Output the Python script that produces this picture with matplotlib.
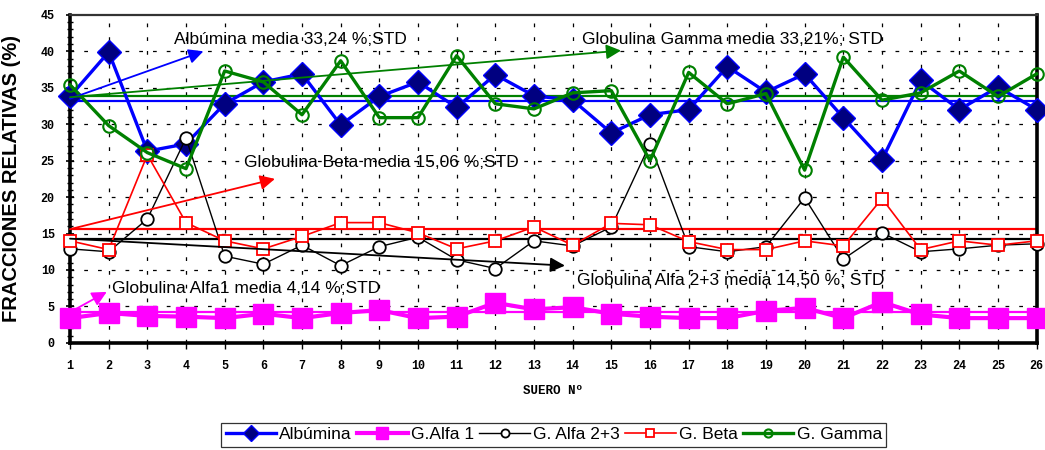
import matplotlib
matplotlib.use("Agg")
import matplotlib.pyplot as plt
from matplotlib.ticker import MultipleLocator

# ---------------- data ----------------
suero = list(range(1, 27))
albumina = [33.8, 39.9, 26.3, 27.3, 32.8, 35.8, 36.9, 29.9, 33.8, 35.8, 32.3, 36.8, 33.9,
            33.3, 28.8, 31.3, 32.0, 37.9, 34.4, 36.9, 30.9, 25.1, 36.0, 32.0, 35.1, 32.0]
alfa1 = [3.4, 4.1, 3.7, 3.6, 3.4, 4.0, 3.4, 4.1, 4.5, 3.4, 3.6, 5.5, 4.6,
         4.9, 4.0, 3.6, 3.4, 3.4, 4.4, 4.8, 3.4, 5.6, 3.9, 3.4, 3.4, 3.4]
alfa23 = [12.9, 12.5, 17.0, 28.1, 11.9, 10.8, 13.4, 10.6, 13.2, 14.5, 11.4, 10.2, 14.0,
          13.3, 15.9, 27.3, 13.2, 12.5, 13.2, 19.9, 11.5, 15.1, 12.5, 12.9, 13.4, 13.6]
beta = [14.0, 12.8, 25.8, 16.5, 14.0, 12.9, 14.6, 16.5, 16.5, 15.1, 12.9, 14.0, 15.9,
        13.4, 16.4, 16.2, 13.9, 12.8, 12.8, 14.0, 13.3, 19.8, 12.8, 14.0, 13.4, 14.0]
gamma = [35.4, 29.8, 26.1, 23.9, 37.3, 35.8, 31.3, 38.7, 30.9, 30.9, 39.4, 32.8, 32.1,
         34.3, 34.6, 25.0, 37.1, 32.8, 34.2, 23.7, 39.2, 33.3, 34.3, 37.3, 33.8, 36.9]

labels = ["Albúmina", "G.Alfa 1", "G. Alfa 2+3", "G. Beta", "G. Gamma"]
mean_levels = [33.2, 4.2, 14.2, 15.6, 33.8]
notes = ["Albúmina media 33,24 %;STD",
         "Globulina Alfa1 media 4,14 %;STD",
         "Globulina Alfa 2+3 media 14,50 %; STD",
         "Globulina Beta media 15,06 %;STD",
         "Globulina Gamma media 33,21%; STD"]
yticks = [0, 5, 10, 15, 20, 25, 30, 35, 40, 45]

# ---------------- figure ----------------
fig = plt.figure(figsize=(10.45, 4.5), dpi=100)
ax = fig.add_axes([0.067, 0.238, 0.925, 0.729])

ax.set_xlim(1, 26)
ax.set_ylim(0, 45)

# grid
for yv in yticks[1:-1]:
    ax.axhline(yv, color="black", lw=0.9, dashes=(3, 8), zorder=0.5)
for xv in suero[1:-1]:
    ax.axvline(xv, color="black", lw=0.9, dashes=(3, 8), zorder=0.5)

colors = ["#0000ff", "#ff00ff", "#000000", "#ff0000", "#008000"]

# mean lines
for lvl, c in zip(mean_levels, colors):
    ax.axhline(lvl, color=c, lw=1.6, zorder=1.5)

# series
ax.plot(suero, albumina, color="#0000ff", lw=2.4, marker="D", ms=12,
        mfc="#000080", mec="#0000ff", mew=1.0, label=labels[0], clip_on=False, zorder=3)
ax.plot(suero, alfa1, color="#ff00ff", lw=3.0, marker="s", ms=14,
        mfc="#ff00ff", mec="#ff00ff", label=labels[1], clip_on=False, zorder=3)
ax.plot(suero, alfa23, color="#000000", lw=1.0, marker="o", ms=9,
        mfc="white", mec="black", mew=1.3, label=labels[2], clip_on=False, zorder=3)
ax.plot(suero, beta, color="#ff0000", lw=1.2, marker="s", ms=8.5,
        mfc="white", mec="#ff0000", mew=1.3, label=labels[3], clip_on=False, zorder=3)
ax.plot(suero, gamma, color="#008000", lw=2.4, marker="o", ms=9,
        mfc="none", mec="#008000", mew=1.5, label=labels[4], clip_on=False, zorder=4)

# annotations
def note(text, txy, start, end, c):
    ax.text(txy[0], txy[1], text, fontsize=12.5, family="Liberation Sans",
            ha="left", va="center", color="black", zorder=6)
    ax.annotate("", xy=end, xytext=start,
                arrowprops=dict(arrowstyle="-|>", color=c, lw=1.3,
                                mutation_scale=22, shrinkA=0, shrinkB=0),
                zorder=5, annotation_clip=False)

note(notes[0], (3.7, 41.6), (1.0, 33.5), (4.45, 40.0), "#0000ff")
note(notes[4], (14.25, 41.6), (1.0, 33.7), (15.25, 40.1), "#008000")
note(notes[3], (5.5, 24.7), (1.0, 15.6), (6.3, 22.5), "#ff0000")
note(notes[2], (14.1, 8.6), (1.0, 14.3), (13.8, 10.6), "#000000")
note(notes[1], (2.08, 7.5), (1.1, 4.5), (1.95, 7.0), "#ff00ff")

# axes styling
ax.set_yticks(yticks)
ax.yaxis.set_minor_locator(MultipleLocator(1))
ax.set_xticks(suero)
tickfont = dict(family="Liberation Mono", weight="bold", size=8.5)
ax.set_xticklabels([str(v) for v in suero], **tickfont)
ax.set_yticklabels([str(v) for v in yticks], **tickfont)
ax.tick_params(axis="y", which="major", direction="inout", length=6, width=1.2, pad=8)
ax.tick_params(axis="y", which="minor", direction="inout", length=4, width=1.0)
ax.tick_params(axis="x", which="major", direction="out", length=4, width=1.0, pad=8)

for side in ["left", "bottom", "right"]:
    ax.spines[side].set_linewidth(2.6)
    ax.spines[side].set_color("black")
ax.spines["top"].set_linewidth(1.6)
ax.spines["top"].set_color("#333333")

ax.set_xlabel("SUERO Nº", family="Liberation Mono", weight="bold", fontsize=9, labelpad=10)
ax.set_ylabel("FRACCIONES RELATIVAS (%)", family="Liberation Sans",
              weight="bold", fontsize=14.5, labelpad=14)

leg = fig.legend(loc="lower center", bbox_to_anchor=(0.53, -0.012), ncol=5,
                 prop=dict(family="Liberation Sans", size=12.5), frameon=True,
                 fancybox=False, edgecolor="black", handlelength=2.9,
                 columnspacing=0.3, handletextpad=0.2, borderpad=0.25, markerscale=0.65)
leg.get_frame().set_linewidth(0.9)

fig.savefig("out.png", dpi=100)
